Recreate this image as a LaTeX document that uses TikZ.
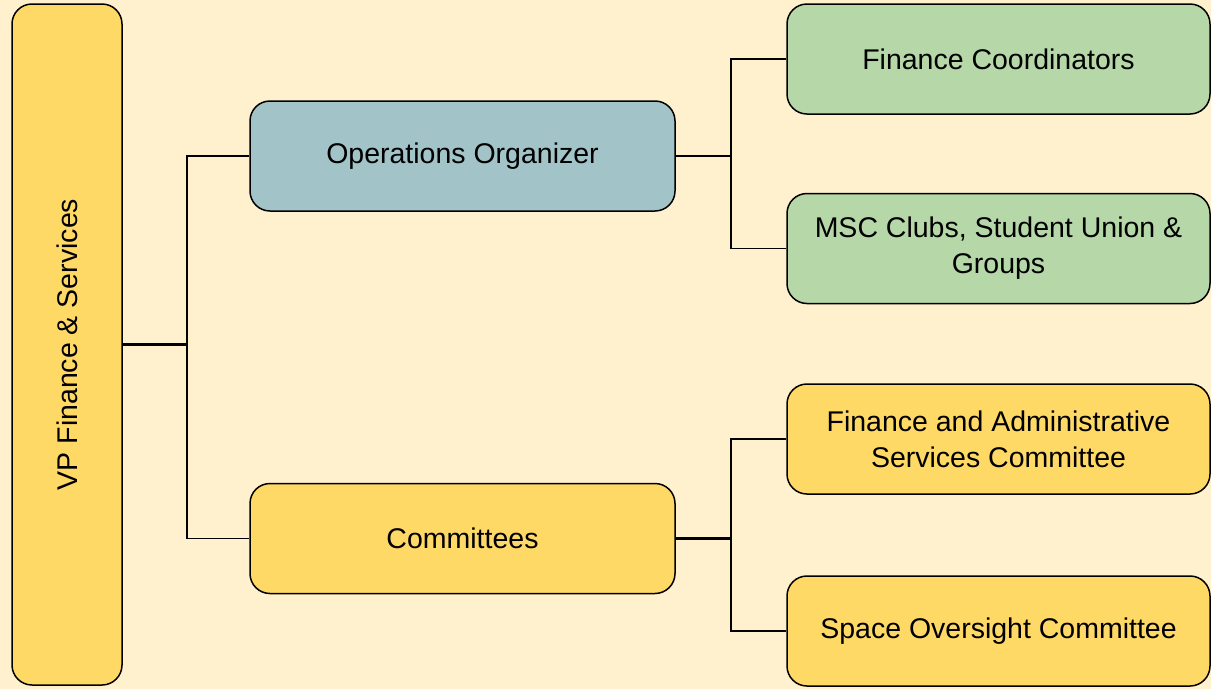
\documentclass[tikz,border=0pt]{standalone}
\usepackage{fontspec}
\setmainfont{Liberation Sans}
\definecolor{bgc}{HTML}{FFF0CE}
\definecolor{yel}{HTML}{FFD966}
\definecolor{blu}{HTML}{A2C4C9}
\definecolor{grn}{HTML}{B6D7A8}
\begin{document}
\begin{tikzpicture}[x=1pt,y=-1pt,
  box/.style={draw=black, line width=1.5pt, rounded corners=20pt, inner sep=0pt,
    font=\fontsize{28.5}{36}\selectfont, align=center, text=black},
  mid/.style={box, minimum width=425pt, minimum height=110pt},
  leaf/.style={box, minimum width=423pt, minimum height=110pt},
  conn/.style={draw=black, line width=1.6pt}]
\fill[bgc] (0,0) rectangle (1211,689);
\useasboundingbox (0,0) rectangle (1211,689);
\node[box, fill=yel, minimum width=110pt, minimum height=681pt] (vp) at (67,344.5) {};
\node[rotate=90, font=\fontsize{28.5}{36}\selectfont, text=black] (vpt) at (vp.center) {VP Finance \& Services};
\node[mid, fill=blu] (ops) at (462.5,156) {\raisebox{-2pt}{Operations Organizer}};
\node[mid, fill=yel] (com) at (462.5,538.5) {\raisebox{-2pt}{Committees}};
\node[leaf, fill=grn] (fc) at (998.5,59) {\raisebox{-2pt}{Finance Coordinators}};
\node[leaf, fill=grn] (msc) at (998.5,248.5) {MSC Clubs, Student Union \&\\Groups};
\node[leaf, fill=yel] (fas) at (998.5,439) {Finance and Administrative\\Services Committee};
\node[leaf, fill=yel] (soc) at (998.5,631) {\raisebox{-2pt}{Space Oversight Committee}};
\coordinate (j1) at (187,344.5);
\coordinate (j2) at (731,156);
\coordinate (j3) at (731,538.5);
\draw[conn, line width=2.4pt] (vp.east) -- (j1);
\draw[conn] (ops.west) -| (j1) |- (com.west);
\draw[conn, line width=2.4pt] (ops.east) -- (j2);
\draw[conn] (fc.west) -| (j2) |- (msc.west);
\draw[conn, line width=2.4pt] (com.east) -- (j3);
\draw[conn] (fas.west) -| (j3) |- (soc.west);
\end{tikzpicture}
\end{document}
